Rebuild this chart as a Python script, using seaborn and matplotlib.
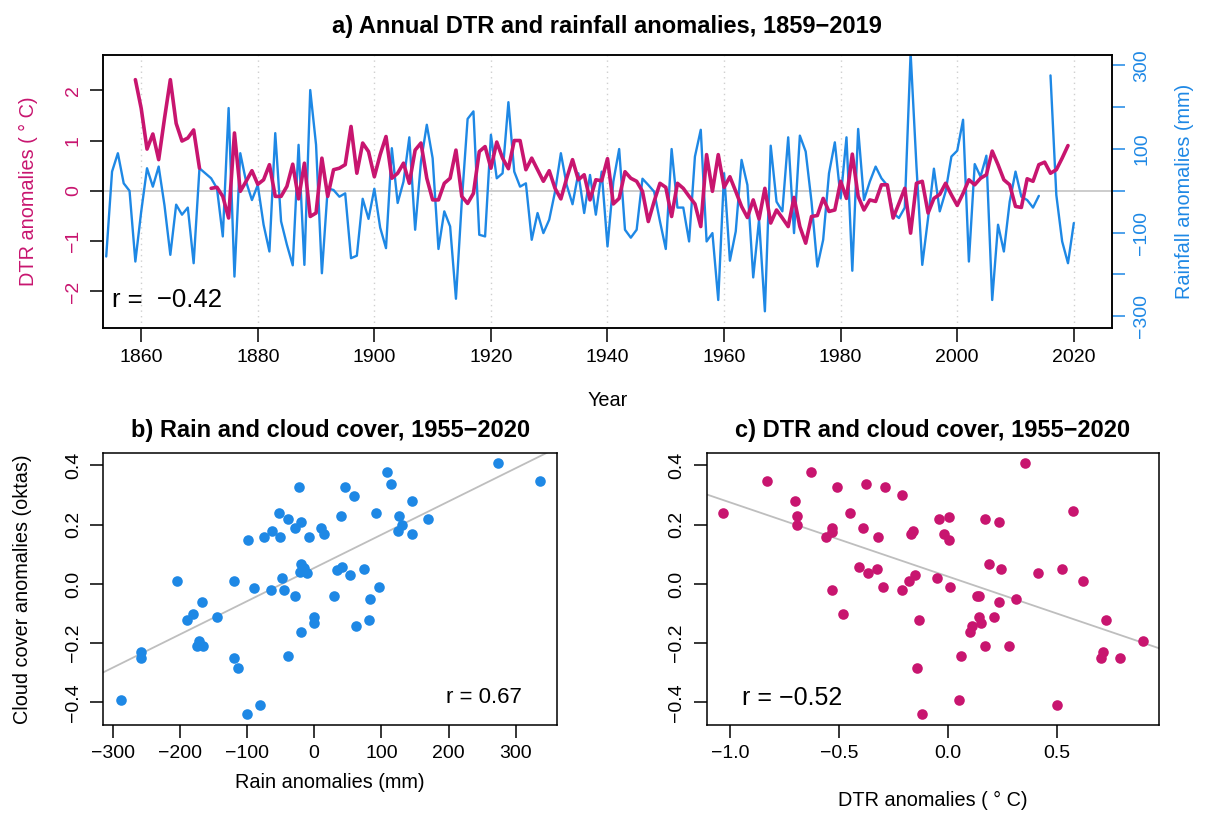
import numpy as np
import pandas as pd
import matplotlib
matplotlib.use("Agg")
import matplotlib.pyplot as plt
import seaborn as sns

# ---------------- data ----------------
dtr_years = list(range(1859, 2020))
dtr_values = [
    2.21,
    1.64, 0.83, 1.13, 0.62, 1.44, 2.21, 1.34, 0.99, 1.05, 1.21,
    0.45, np.nan, 0.05, 0.07, -0.11, -0.54, 1.15, -0.01, 0.19, 0.40,
    0.13, 0.22, 0.52, -0.11, -0.11, 0.09, 0.53, -0.16, 0.55, -0.51,
    -0.44, 0.65, -0.11, 0.42, 0.45, 0.52, 1.28, 0.35, 0.95, 0.78,
    0.28, 0.72, 1.08, 0.25, 0.35, 0.55, 0.15, 0.81, 0.95, 0.25,
    -0.18, -0.18, 0.15, 0.25, 0.81, -0.11, -0.25, -0.05, 0.78, 0.88,
    0.45, 0.97, 0.65, 0.44, 1.00, 1.00, 0.42, 0.65, 0.42, 0.19,
    0.40, 0.05, -0.16, 0.25, 0.62, 0.22, 0.32, -0.18, 0.22, 0.20,
    0.64, -0.26, -0.15, 0.38, 0.25, 0.19, -0.01, -0.61, -0.21, 0.15,
    0.07, -0.51, 0.15, 0.05, -0.11, -0.26, -0.71, 0.72, -0.01, 0.72,
    0.07, 0.28, -0.01, -0.31, -0.53, -0.18, -0.56, 0.05, -0.64, -0.38,
    -0.54, -0.71, -0.13, -0.71, -1.04, -0.51, -0.49, -0.15, -0.41, -0.38,
    0.19, -0.15, 0.73, -0.11, -0.38, -0.18, -0.21, 0.12, 0.12, -0.54,
    -0.25, 0.05, -0.84, 0.15, 0.19, -0.44, -0.15, -0.07, 0.15, -0.08,
    -0.29, -0.05, 0.22, 0.12, 0.25, 0.32, 0.79, 0.52, 0.22, 0.12,
    -0.31, -0.33, 0.24, 0.19, 0.52, 0.57, 0.35, 0.42, 0.65, 0.90,
]
rain_years = list(range(1854, 2021))
rain_values = [
    -157, 46, 90, 18, 0, -169,
    -50, 54, 10, 58, -35, -153, -33, -57, -40, -173,
    54, 42, 30, 6, -109, 198, -205, 90, 22, -22,
    14, -81, -145, 138, -73, -129, -178, 110, -177, 241,
    110, -197, 6, 2, -14, -6, -161, -155, -19, -67,
    5, -88, -137, 102, -29, 22, 128, -93, 70, 158,
    78, -139, -49, -85, -258, -26, 172, 190, -105, -109,
    134, 30, 42, 212, 46, 10, 18, -117, -53, -101,
    -69, -2, 90, 14, -32, 42, -53, 38, -57, 46,
    -133, 22, 100, -93, -112, -93, 29, 14, -2, -73,
    -139, 100, -40, -40, -121, 82, 146, -121, -101, -261,
    42, -167, -97, 74, 14, -207, -69, -288, 108, -26,
    -49, 128, -101, 132, 94, -26, -181, -117, 42, 116,
    -18, 128, -191, 148, -22, 22, 58, 30, 13, -53,
    -65, -40, 330, 60, -177, -65, 53, -49, -2, 82,
    96, 170, -169, 64, 34, 84, -261, -81, -145, -26,
    46, -14, -22, -40, -12, np.nan, 276, -10, -121, -173,
    -77,
]
year_ticks = [1860, 1880, 1900, 1920, 1940, 1960, 1980, 2000, 2020]
dtr_ticks = [-2, -1, 0, 1, 2]
dtr_ticklabels = ["\u22122", "\u22121", "0", "1", "2"]
rain_ticks = [-300, -200, -100, 0, 100, 200, 300]
rain_ticklabels = ["\u2212300", "", "\u2212100", "", "100", "", "300"]

b_rain = [-288, -258, -258, -205, -189, -180, -167, -172, -175, -166, -144, -119, -120,
          -114, -99, -100, -89, -81, -75, -63, -65, -52, -51, -48, -45, -39, -39, -29,
          -29, -23, -19, -20, -21, -15, -10, -20, -8, -1, 0, 10, 15, 30, 34, 42, 40, 46,
          59, 53, 62, 74, 82, 83, 97, 92, 108, 115, 127, 131, 125, 145, 146, 169, 274, 336]
b_cloud = [-0.391, -0.230, -0.251, 0.009, -0.121, -0.101, -0.062, -0.191, -0.211, -0.211,
           -0.112, 0.009, -0.251, -0.282, 0.148, -0.440, -0.012, -0.410, 0.157, 0.180,
           -0.022, 0.238, 0.157, 0.019, -0.022, 0.218, -0.242, 0.189, -0.040, 0.328,
           0.209, 0.067, 0.039, 0.053, 0.038, -0.161, 0.157, -0.112, -0.133, 0.190,
           0.168, -0.040, 0.047, 0.058, 0.228, 0.328, 0.298, 0.030, -0.142, 0.049,
           -0.121, -0.052, -0.011, 0.238, 0.379, 0.337, 0.229, 0.199, 0.180, 0.280,
           0.168, 0.218, 0.407, 0.349]
b_xticks = [-300, -200, -100, 0, 100, 200, 300]
b_xticklabels = ["\u2212300", "\u2212200", "\u2212100", "0", "100", "200", "300"]

c_dtr = [-1.035, -0.833, -0.631, -0.703, -0.693, -0.696, -0.512, -0.451, -0.563, -0.532,
         -0.532, -0.379, -0.393, -0.321, -0.291, -0.211, -0.161, -0.171, -0.410, -0.370,
         -0.329, -0.301, -0.532, -0.482, -0.211, -0.182, -0.151, -0.133, -0.142, -0.119,
         -0.041, 0.002, -0.020, 0.002, -0.050, 0.008, 0.060, 0.049, 0.170, 0.231,
         0.188, 0.240, 0.130, 0.141, 0.231, 0.310, 0.139, 0.209, 0.151, 0.110,
         0.099, 0.170, 0.280, 0.350, 0.570, 0.410, 0.520, 0.619, 0.500, 0.722,
         0.711, 0.700, 0.790, 0.891]
c_cloud = [0.238, 0.349, 0.379, 0.280, 0.229, 0.199, 0.328, 0.238, 0.157, 0.190,
           0.177, 0.337, 0.190, 0.160, 0.328, 0.300, 0.180, 0.169, 0.058, 0.038,
           0.049, -0.011, -0.022, -0.101, -0.022, 0.009, 0.029, -0.121, -0.282, -0.440,
           0.218, 0.227, 0.168, 0.148, 0.019, -0.011, -0.242, -0.391, 0.218, 0.209,
           0.067, 0.049, -0.040, -0.040, -0.062, -0.052, -0.110, -0.112, -0.133, -0.141,
           -0.161, -0.211, -0.211, 0.407, 0.247, 0.038, 0.049, 0.009, -0.410, -0.121,
           -0.230, -0.251, -0.251, -0.191]
c_xticks = [-1.0, -0.5, 0.0, 0.5]
c_xticklabels = ["\u22121.0", "\u22120.5", "0.0", "0.5"]
cloud_ticks = [-0.4, -0.2, 0.0, 0.2, 0.4]
cloud_ticklabels = ["\u22120.4", "\u22120.2", "0.0", "0.2", "0.4"]

title_a = "a) Annual DTR and rainfall anomalies, 1859\u22122019"
title_b = "b) Rain and cloud cover, 1955\u22122020"
title_c = "c) DTR and cloud cover, 1955\u22122020"
r_a = "r =  \u22120.42"
r_b = "r = 0.67"
r_c = "r = \u22120.52"

# ---------------- style ----------------
sns.set_theme(style="ticks")
plt.rcParams['font.family'] = ['Liberation Sans', 'DejaVu Sans']
plt.rcParams['axes.unicode_minus'] = True
plt.rcParams['text.color'] = 'black'
plt.rcParams['axes.labelcolor'] = 'black'
plt.rcParams['xtick.color'] = 'black'
plt.rcParams['ytick.color'] = 'black'

MAG = "#C8156F"
BLUE = "#1E88E5"
GREYLINE = "#BEBEBE"
TICK_FS = 14
LAB_FS = 14.3
TITLE_FS = 17

W, H = 1205, 827
fig = plt.figure(figsize=(W / 100, H / 100), dpi=100)


def rect(l, t, r, b):
    return [l / W, 1 - b / H, (r - l) / W, (b - t) / H]


axA = fig.add_axes(rect(103.3, 55, 1111.7, 327.7))
axR = axA.twinx()
axB = fig.add_axes(rect(103.3, 453.3, 557.3, 725))
axC = fig.add_axes(rect(706.7, 453.3, 1159.3, 725))

for ax in (axA, axR, axB, axC):
    for s in ax.spines.values():
        s.set_visible(True)
        s.set_color("black")
        s.set_linewidth(1.1)


def segments(years, vals, name):
    df = pd.DataFrame({"year": years, name: vals})
    df["seg"] = df[name].isna().cumsum()
    return df.dropna()


rain_df = segments(rain_years, rain_values, "rain")
dtr_df = segments(dtr_years, dtr_values, "dtr")

# ---------------- panel a ----------------
for yv in year_ticks:
    axR.axvline(yv, color="#CFCFCF", ls=(0, (1, 3)), lw=1.0, zorder=0)
axR.axhline(0, color=GREYLINE, lw=1.1, zorder=0.5)
sns.lineplot(data=rain_df, x="year", y="rain", units="seg", estimator=None,
             color=BLUE, lw=1.7, ax=axR, legend=False)
sns.lineplot(data=dtr_df, x="year", y="dtr", units="seg", estimator=None,
             color=MAG, lw=2.6, ax=axA, legend=False)
axA.set_zorder(axR.get_zorder() + 1)
axA.patch.set_visible(False)

axA.set_xlim(1853.5, 2026.5)
axA.set_ylim(-2.72, 2.70)
axR.set_ylim(-2.72 * 120.3, 2.70 * 120.3)

axA.set_xticks(year_ticks)
axA.set_xticklabels([str(y) for y in year_ticks])
axA.set_yticks(dtr_ticks)
axA.set_yticklabels(dtr_ticklabels)
axR.set_yticks(rain_ticks)
axR.set_yticklabels(rain_ticklabels)

axA.tick_params(axis="x", direction="out", length=10, width=1.1, pad=5,
                labelsize=TICK_FS, colors="black")
axA.tick_params(axis="y", direction="out", length=9.5, width=1.1, pad=6,
                labelsize=TICK_FS, color="black", labelcolor=MAG)
axR.tick_params(axis="y", direction="out", length=9.5, width=1.1, pad=6,
                labelsize=TICK_FS, color=BLUE, labelcolor=BLUE)
for lab in axA.get_yticklabels():
    lab.set_rotation(90)
    lab.set_va("center")
for lab in axR.get_yticklabels():
    lab.set_rotation(90)
    lab.set_va("center")

axA.set_xlabel("Year", fontsize=LAB_FS)
axA.xaxis.label.set_va("center")
axA.xaxis.set_label_coords(0.5, -(400 - 327.7) / 272.7)
axA.set_ylabel("DTR anomalies ( \u00b0 C)", fontsize=LAB_FS, color=MAG)
axA.yaxis.label.set_va("center")
axA.yaxis.set_label_coords((28.3 - 103.3) / 1008.4, 0.5)
axR.set_ylabel("Rainfall anomalies (mm)", fontsize=LAB_FS, color=BLUE)
axR.yaxis.label.set_va("center")
axR.yaxis.set_label_coords((1185 - 103.3) / 1008.4, 0.5)

axA.text((112 - 103.3) / 1008.4, 0.077, r_a, transform=axA.transAxes,
         ha="left", va="baseline", fontsize=18.5, color="black")

fig.text(607 / W, 1 - 32.7 / H, title_a, ha="center", va="baseline",
         fontsize=TITLE_FS, fontweight="bold")

# ---------------- panel b ----------------
axB.set_xlim(-314, 362)
axB.set_ylim(-0.476, 0.441)
sns.regplot(x=b_rain, y=b_cloud, scatter=False, ci=None, truncate=False,
            color=GREYLINE, line_kws=dict(lw=1.3, zorder=1), ax=axB)
sns.scatterplot(x=b_rain, y=b_cloud, color=BLUE, s=58, linewidth=0,
                ax=axB, zorder=3, legend=False)
axB.set_xlim(-314, 362)
axB.set_ylim(-0.476, 0.441)
axB.set_xticks(b_xticks)
axB.set_xticklabels(b_xticklabels)
axB.set_yticks(cloud_ticks)
axB.set_yticklabels(cloud_ticklabels)
axB.text(0.9216, 0.080, r_b, transform=axB.transAxes, ha="right",
         va="baseline", fontsize=16)
axB.set_xlabel("Rain anomalies (mm)", fontsize=LAB_FS)
axB.xaxis.label.set_va("center")
axB.xaxis.set_label_coords(0.5, -(783 - 725) / 271.7)
axB.set_ylabel("Cloud cover anomalies (oktas)", fontsize=LAB_FS)
axB.yaxis.label.set_va("center")
axB.yaxis.set_label_coords((22 - 103.3) / 454, 0.5)
fig.text((103.3 + 557.3) / 2 / W, 1 - 437 / H, title_b, ha="center",
         va="baseline", fontsize=TITLE_FS, fontweight="bold")

# ---------------- panel c ----------------
axC.set_xlim(-1.108, 0.968)
axC.set_ylim(-0.476, 0.441)
sns.regplot(x=c_dtr, y=c_cloud, scatter=False, ci=None, truncate=False,
            color=GREYLINE, line_kws=dict(lw=1.3, zorder=1), ax=axC)
sns.scatterplot(x=c_dtr, y=c_cloud, color=MAG, s=58, linewidth=0,
                ax=axC, zorder=3, legend=False)
axC.set_xlim(-1.108, 0.968)
axC.set_ylim(-0.476, 0.441)
axC.set_xticks(c_xticks)
axC.set_xticklabels(c_xticklabels)
axC.set_yticks(cloud_ticks)
axC.set_yticklabels(cloud_ticklabels)
axC.text(0.0773, 0.0736, r_c, transform=axC.transAxes, ha="left",
         va="baseline", fontsize=18)
axC.set_xlabel("DTR anomalies ( \u00b0 C)", fontsize=LAB_FS)
axC.xaxis.label.set_va("center")
axC.xaxis.set_label_coords(0.5, -(800 - 725) / 271.7)
axC.set_ylabel("")
fig.text((706.7 + 1159.3) / 2 / W, 1 - 437 / H, title_c, ha="center",
         va="baseline", fontsize=TITLE_FS, fontweight="bold")

for ax in (axB, axC):
    ax.tick_params(axis="both", direction="out", length=9.5, width=1.1,
                   labelsize=TICK_FS, colors="black")
    ax.tick_params(axis="x", pad=5)
    ax.tick_params(axis="y", pad=6)
    for lab in ax.get_yticklabels():
        lab.set_rotation(90)
        lab.set_va("center")

fig.savefig("out.png", dpi=100, facecolor="white")
